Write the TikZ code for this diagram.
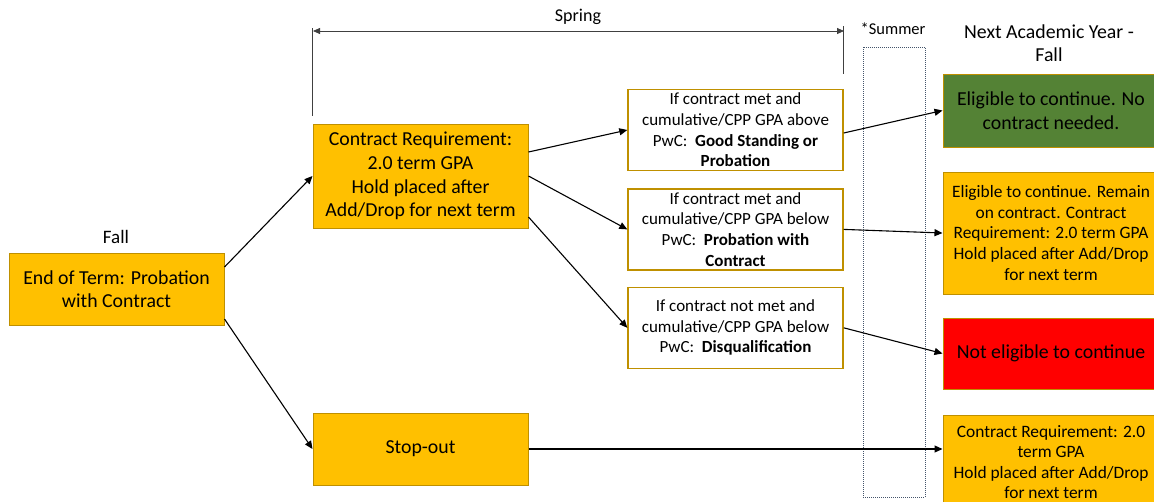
\documentclass[tikz,border=0pt]{standalone}
\usepackage{fontspec}
\setmainfont{Carlito}
\usepackage{xcolor}
\usetikzlibrary{positioning, arrows.meta}

\definecolor{amber}{RGB}{255,192,0}
\definecolor{gold}{RGB}{191,144,0}
\definecolor{leaf}{RGB}{84,130,53}
\definecolor{slate}{RGB}{68,84,106}

\begin{document}
\begin{tikzpicture}[
      x=1pt, y=-1pt,
      box/.style={
        rectangle,
        draw=gold,
        line width=1pt,
        fill=amber,
        minimum width=215pt,
        inner sep=2pt,
        align=center,
        font=\fontsize{19.8}{23.6}\selectfont
      },
      rule/.style={box, fill=white, line width=1.4pt, minimum height=81pt,
        font=\fontsize{17}{20.6}\selectfont},
      result/.style={box, minimum width=216pt},
      heading/.style={align=center, inner sep=0pt},
      bracket/.style={draw=black!75, line width=0.8pt},
      every edge/.style={draw, line width=1.1pt, -{Triangle[length=8pt, width=7pt]}},
      node distance=1cm
    ]
    \useasboundingbox (0,0) rectangle (1154,501);

    % Nodes
    \node[box, minimum height=72pt] (fall) at (116.5,289) {End of Term: Probation\\with Contract};
    \node[box, minimum height=104pt] (contract) at (420.5,176)
      {Contract Requirement:\\2.0 term GPA\\Hold placed after\\Add/Drop for next term};
    \node[box, minimum height=72pt, below=184pt of contract] (stop) {Stop-out};

    \node[rule] (metabove) at (735.5,130)
      {If contract met and\\cumulative/CPP GPA above\\PwC:\ \ \textbf{Good Standing or}\\\textbf{Probation}};
    \node[rule, below=17pt of metabove] (metbelow)
      {If contract met and\\cumulative/CPP GPA below\\PwC:\ \ \textbf{Probation with}\\\textbf{Contract}};
    \node[rule, below=16pt of metbelow] (notmet)
      {If contract not met and\\cumulative/CPP GPA below\\PwC:\ \ \textbf{Disqualification}};

    \node[result, fill=leaf, minimum height=73pt] (good) at (1051,110.5)
      {Eligible to continue. No\\contract needed.};
    \node[result, minimum height=122pt, below=24pt of good, font=\fontsize{17.4}{20.6}\selectfont] (remain)
      {Eligible to continue. Remain\\on contract. Contract\\Requirement: 2.0 term GPA\\Hold placed after Add/Drop\\for next term};
    \node[result, fill=red, minimum height=71pt, below=23pt of remain] (out) {Not eligible to continue};
    \node[result, minimum height=94pt, below=25pt of out, font=\fontsize{17.4}{20.6}\selectfont] (resume)
      {Contract Requirement: 2.0\\term GPA\\Hold placed after Add/Drop\\for next term};

    % Summer column
    \node[draw=slate, line width=0.8pt, dash pattern=on 1pt off 1pt,
      minimum width=62pt, minimum height=450pt] (summer) at (894,272) {};

    % Headings
    \node[heading, font=\fontsize{18}{20}\selectfont] (spring) at (578,17) {Spring};
    \node[heading, font=\fontsize{16.5}{18}\selectfont] (summerlbl) at (893,29) {*Summer};
    \node[heading, font=\fontsize{19.8}{23}\selectfont] (nextyear) at (1049,43) {Next Academic Year -\\Fall};
    \node[heading, font=\fontsize{19}{20}\selectfont] (falllbl) at (116,237) {Fall};

    % Spring bracket
    \coordinate (springL) at (313,31);
    \coordinate (springR) at (844,31);
    \draw[bracket] ([yshift=8pt]contract.north west) -- ++(0,-88);
    \draw[bracket] ([yshift=15pt]metabove.north east) -- ++(0,-48);
    \draw[bracket, {Triangle[length=7pt, width=6pt]}-{Triangle[length=7pt, width=6pt]}] (springL) -- (springR);

    % Arrows
    \path ([yshift=22pt]fall.east) edge (contract.west)
          ([yshift=-30pt]fall.east) edge (stop.west)
          ([yshift=24pt]contract.east) edge (metabove.west)
          (contract.east) edge (metbelow.west)
          ([yshift=-41pt]contract.east) edge (notmet.west)
          ([yshift=-3pt]metabove.east) edge (good.west)
          (metbelow.east) edge (remain.west)
          (notmet.east) edge (out.west)
          (stop.east) edge (stop.east -| resume.west);
  \end{tikzpicture}
\end{document}
